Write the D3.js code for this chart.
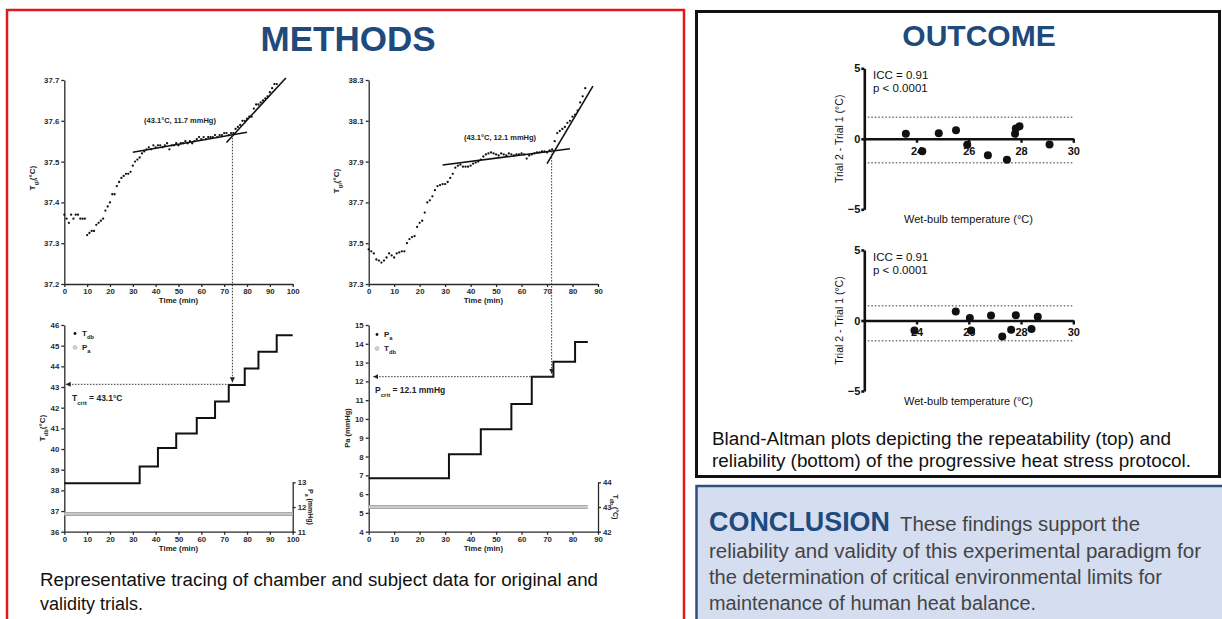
<!DOCTYPE html>
<html><head><meta charset="utf-8">
<script src="https://cdn.jsdelivr.net/npm/d3@7"></script>
<style>body{margin:0;background:#fff}svg{display:block}</style>
</head><body><svg id="c" width="1222" height="619"></svg>
<script>
// ---------------- DATA ----------------
// Panel A (original trial): gastrointestinal temperature, one sample per minute (index = minute)
const tgiTrialA = [37.37,37.36,37.35,37.37,37.36,37.37,37.37,37.36,37.36,37.36,
  37.32,37.325,37.33,37.33,37.345,37.35,37.355,37.36,37.38,37.39,
  37.40,37.42,37.42,37.44,37.45,37.46,37.465,37.47,37.47,37.475,
  37.49,37.50,37.505,37.51,37.52,37.525,37.53,37.535,37.53,37.54,
  37.535,37.54,37.54,37.535,37.54,37.545,37.53,37.54,37.54,37.545,
  37.54,37.545,37.545,37.55,37.545,37.55,37.545,37.55,37.555,37.56,
  37.555,37.56,37.555,37.56,37.56,37.56,37.565,37.56,37.565,37.565,
  37.57,37.57,37.565,37.57,37.57,37.58,37.585,37.59,37.60,37.60,
  37.605,37.61,37.61,37.63,37.64,37.64,37.645,37.65,37.655,37.66,
  37.67,37.68,37.69,37.69];
const fitA1 = [[30,37.523],[80,37.572]];
const fitA2 = [[71,37.547],[97,37.705]];
const critTimeA = 73.6;
// Panel B (validity trial)
const tgiTrialB = [37.47,37.46,37.45,37.42,37.415,37.405,37.415,37.43,37.45,37.44,
  37.43,37.45,37.455,37.46,37.46,37.50,37.52,37.53,37.535,37.58,
  37.60,37.61,37.65,37.70,37.71,37.73,37.76,37.78,37.785,37.79,
  37.79,37.80,37.82,37.84,37.87,37.88,37.885,37.875,37.875,37.875,
  37.88,37.89,37.895,37.90,37.91,37.925,37.935,37.94,37.945,37.94,
  37.935,37.93,37.94,37.935,37.93,37.94,37.935,37.93,37.935,37.935,
  37.94,37.935,37.915,37.93,37.935,37.94,37.945,37.945,37.95,37.95,
  37.945,37.955,37.96,38.00,38.04,38.05,38.06,38.07,38.09,38.10,
  38.12,38.13,38.15,38.19,38.22,38.26];
const fitB1 = [[29,37.883],[79,37.963]];
const fitB2 = [[70,37.89],[88,38.27]];
const critTimeB = 71.8;
// Chamber data panel A: dry-bulb steps (start minute, °C), constant Pa
const tdbStepStart = [0,33,41,49,58,66,72,79,85,93];
const tdbStepLevel = [38.35,39.15,40.05,40.75,41.5,42.3,43.1,43.9,44.7,45.5];
const tdbEnd = 100;
const paConstA = 11.72;
const tcritA = 43.13;
// Chamber data panel B: Pa steps (start minute, mmHg), constant Tdb
const paStepStart = [0,31.5,44,56,64,72.5,81];
const paStepLevel = [6.85,8.12,9.45,10.8,12.25,13.05,14.1];
const paEnd = 86;
const tdbConstB = 43.0;
const pcritB = 12.25;
// Tick labels
const ticksTime100 = [0,10,20,30,40,50,60,70,80,90,100];
const ticksTime90 = [0,10,20,30,40,50,60,70,80,90];
const ticksTgiA = [37.2,37.3,37.4,37.5,37.6,37.7];
const ticksTgiB = [37.3,37.5,37.7,37.9,38.1,38.3];
const ticksTdb = [36,37,38,39,40,41,42,43,44,45,46];
const ticksPaRight = [11,12,13];
const ticksPa = [4,5,6,7,8,9,10,11,12,13,14,15];
const ticksTdbRight = [42,43,44];
// Bland-Altman: repeatability (top)
const baTopTwb = [23.59,24.22,24.85,25.51,25.94,26.73,27.46,27.77,27.8,27.94,29.09];
const baTopDiff = [0.35,-0.88,0.40,0.61,-0.43,-1.16,-1.49,0.35,0.73,0.89,-0.40];
const baTopLoA = [1.53,-1.70];
// Bland-Altman: reliability (bottom)
const baBotTwb = [23.92,25.5,26.04,26.09,26.85,27.28,27.62,27.8,28.4,28.64];
const baBotDiff = [-0.71,0.64,0.17,-0.71,0.35,-1.13,-0.66,0.38,-0.61,0.26];
const baBotLoA = [1.04,-1.44];
const baXTicks = [24,26,28,30];
const baYTicks = [-5,0,5];

// ---------------- DRAW ----------------
const FONT = '"Liberation Sans", Arial, sans-serif';
const svg = d3.select('#c').attr('font-family', FONT);
svg.append('rect').attr('width',1222).attr('height',619).attr('fill','#fff');

const defs = svg.append('defs');
defs.append('marker').attr('id','arr').attr('viewBox','0 0 6 6').attr('refX',6).attr('refY',3)
  .attr('markerWidth',5).attr('markerHeight',5).attr('markerUnits','userSpaceOnUse').attr('orient','auto')
  .append('path').attr('d','M0,0L6,3L0,6Z').attr('fill','#222');

// frames
svg.append('rect').attr('x',7).attr('y',10).attr('width',677).attr('height',640)
  .attr('fill','none').attr('stroke','#e0191b').attr('stroke-width',2.5);
svg.append('rect').attr('x',696.5).attr('y',11.5).attr('width',523).attr('height',465)
  .attr('fill','none').attr('stroke','#111').attr('stroke-width',3);
svg.append('rect').attr('x',696.5).attr('y',486).attr('width',540).attr('height',150)
  .attr('fill','#d4def0').attr('stroke','#2f5080').attr('stroke-width',2.5);

svg.append('text').attr('x',348).attr('y',51).attr('text-anchor','middle')
  .attr('font-size',35).attr('font-weight','bold').attr('fill','#214a7c').text('METHODS');
svg.append('text').attr('x',979).attr('y',46).attr('text-anchor','middle')
  .attr('font-size',30).attr('font-weight','bold').attr('fill','#214a7c').text('OUTCOME');

function rich(parent, x, y, parts, size, opts={}) {
  const t = parent.append('text').attr('x',x).attr('y',y).attr('font-size',size)
    .attr('font-weight',opts.weight||'bold').attr('fill',opts.fill||'#222')
    .attr('text-anchor',opts.anchor||'start');
  if (opts.rotate!==undefined) t.attr('transform',`rotate(${opts.rotate},${x},${y})`);
  parts.forEach(p=>{
    const s = t.append('tspan').text(p[0]);
    if (p[1]==='sub') s.attr('baseline-shift','sub').attr('font-size',size*0.72);
  });
  return t;
}

function styleAxis(a, size, w, col) {
  a.attr('font-family', FONT);
  a.selectAll('path,line').attr('stroke',col).attr('stroke-width',w);
  a.selectAll('text').attr('font-size',size).attr('font-weight','bold').attr('fill','#2a2a2a');
}

function panel(cfg) {
  const x = d3.scaleLinear().domain(cfg.xd).range([cfg.left,cfg.right]);
  const y = d3.scaleLinear().domain(cfg.yd).range([cfg.bottom,cfg.top]);
  const g = svg.append('g');
  const ax = g.append('g').attr('transform',`translate(0,${cfg.bottom})`)
    .call(d3.axisBottom(x).tickValues(cfg.xt).tickSize(3).tickSizeOuter(0).tickPadding(1.5).tickFormat(d3.format('d')));
  const ay = g.append('g').attr('transform',`translate(${cfg.left},0)`)
    .call(d3.axisLeft(y).tickValues(cfg.yt).tickSize(3).tickSizeOuter(0).tickPadding(2).tickFormat(cfg.yf));
  styleAxis(ax,7.8,1.3,'#2a2a2a'); styleAxis(ay,7.8,1.3,'#2a2a2a');
  g.append('text').attr('x',(cfg.left+cfg.right)/2).attr('y',cfg.bottom+19).attr('text-anchor','middle')
    .attr('font-size',7.8).attr('font-weight','bold').attr('fill','#222').text('Time (min)');
  return {x,y,g};
}

// Panel 1: Tgi original
const p1 = panel({xd:[0,100],yd:[37.2,37.7],left:64.3,right:292.7,top:80,bottom:284,xt:ticksTime100,yt:ticksTgiA,yf:d3.format('.1f')});
// Panel 2: Tgi validity
const p2 = panel({xd:[0,90],yd:[37.3,38.3],left:368.7,right:598,top:80,bottom:284,xt:ticksTime90,yt:ticksTgiB,yf:d3.format('.1f')});
// Panel 3: Tdb
const p3 = panel({xd:[0,100],yd:[36,46],left:64.3,right:292.7,top:325,bottom:531.7,xt:ticksTime100,yt:ticksTdb,yf:d3.format('d')});
// Panel 4: Pa
const p4 = panel({xd:[0,90],yd:[4,15],left:368.7,right:598,top:325,bottom:531.7,xt:ticksTime90,yt:ticksPa,yf:d3.format('d')});

// right axes
const y3r = d3.scaleLinear().domain([11,13]).range([531.7,482.3]);
const y4r = d3.scaleLinear().domain([42,44]).range([531.7,482.3]);
[[p3,y3r,ticksPaRight],[p4,y4r,ticksTdbRight]].forEach(([p,yr,tv])=>{
  const a = p.g.append('g').attr('transform',`translate(${p.x.range()[1]},0)`)
    .call(d3.axisRight(yr).tickValues(tv).tickSize(3).tickSizeOuter(0).tickPadding(2).tickFormat(d3.format('d')));
  styleAxis(a,7.8,1.3,'#2a2a2a');
});

// y titles
rich(svg,34.5,178,[['T'],['gi','sub'],['(°C)']],8,{anchor:'middle',rotate:-90});
rich(svg,339,181,[['T'],['gi','sub'],['(°C)']],8,{anchor:'middle',rotate:-90});
rich(svg,44.5,428,[['T'],['db','sub'],['(°C)']],8,{anchor:'middle',rotate:-90});
rich(svg,350,428,[['Pa (mmHg)']],7.5,{anchor:'middle',rotate:-90});
rich(svg,308,507,[['P'],['a','sub'],[' (mmHg)']],7,{anchor:'middle',rotate:90});
rich(svg,613,507,[['T'],['db','sub'],[' (°C)']],7,{anchor:'middle',rotate:90});

// Tgi dots and fits
function dots(p, vals) {
  p.g.append('g').selectAll('circle').data(vals).join('circle')
    .attr('cx',(d,i)=>p.x(i)).attr('cy',d=>p.y(d)).attr('r',1.15).attr('fill','#111');
}
dots(p1,tgiTrialA); dots(p2,tgiTrialB);
const fitLine = (p)=>d3.line().x(d=>p.x(d[0])).y(d=>p.y(d[1]));
[[p1,fitA1],[p1,fitA2],[p2,fitB1],[p2,fitB2]].forEach(([p,f])=>{
  p.g.append('path').attr('d',fitLine(p)(f)).attr('stroke','#111').attr('stroke-width',1.6).attr('fill','none');
});
rich(svg,180,123,[['(43.1°C, 11.7 mmHg)']],7.5,{anchor:'middle'});
rich(svg,500,140,[['(43.1°C, 12.1 mmHg)']],7.5,{anchor:'middle'});

// chamber series
function stepPath(p, starts, levels, end, yScale) {
  const pts = starts.map((s,i)=>[s,levels[i]]).concat([[end,levels[levels.length-1]]]);
  return d3.line().x(d=>p.x(d[0])).y(d=>yScale(d[1])).curve(d3.curveStepAfter)(pts);
}
function constBand(p, yScale, val, end) {
  const d = d3.line().x(d=>p.x(d[0])).y(d=>yScale(d[1]))([[0,val],[end,val]]);
  p.g.append('path').attr('d',d).attr('stroke','#a9a9a9').attr('stroke-width',4).attr('fill','none');
  p.g.append('path').attr('d',d).attr('stroke','#d8d8d8').attr('stroke-width',1.4).attr('fill','none');
}
constBand(p3, y3r, paConstA, 100);
p3.g.append('path').attr('d',stepPath(p3,tdbStepStart,tdbStepLevel,tdbEnd,p3.y))
  .attr('stroke','#111').attr('stroke-width',2).attr('fill','none');
constBand(p4, y4r, tdbConstB, paEnd);
p4.g.append('path').attr('d',stepPath(p4,paStepStart,paStepLevel,paEnd,p4.y))
  .attr('stroke','#111').attr('stroke-width',2).attr('fill','none');

// legends
function legend(p, x, y, first, second) {
  p.g.append('circle').attr('cx',x).attr('cy',y-2.5).attr('r',1.4).attr('fill','#111');
  rich(p.g,x+7,y,first,8);
  p.g.append('circle').attr('cx',x).attr('cy',y+11.5).attr('r',2).attr('fill','#d0d0d0').attr('stroke','#b0b0b0').attr('stroke-width',0.6);
  rich(p.g,x+7,y+14,second,8);
}
legend(p3,75,336,[['T'],['db','sub']],[['P'],['a','sub']]);
legend(p4,377,337,[['P'],['a','sub']],[['T'],['db','sub']]);

// critical point connectors
function dotted(x1,y1,x2,y2){
  svg.append('line').attr('x1',x1).attr('y1',y1).attr('x2',x2).attr('y2',y2)
    .attr('stroke','#333').attr('stroke-width',1).attr('stroke-dasharray','1.5,1.5')
    .attr('marker-end','url(#arr)');
}
const interA = fitA1[0][1] + (fitA1[1][1]-fitA1[0][1])*(critTimeA-fitA1[0][0])/(fitA1[1][0]-fitA1[0][0]);
dotted(p1.x(critTimeA),p1.y(interA),p3.x(critTimeA),p3.y(tcritA)-2);
dotted(p3.x(critTimeA),p3.y(tcritA),p3.x(0.6),p3.y(tcritA));
const interB = fitB1[0][1] + (fitB1[1][1]-fitB1[0][1])*(critTimeB-fitB1[0][0])/(fitB1[1][0]-fitB1[0][0]);
dotted(p2.x(critTimeB),p2.y(interB),p4.x(critTimeB),p4.y(pcritB)-3);
dotted(p4.x(critTimeB),p4.y(pcritB),p4.x(1.8),p4.y(pcritB));
rich(svg,72,401,[['T'],['crit','sub'],[' = 43.1°C']],8.5);
rich(svg,375,393,[['P'],['crit','sub'],[' = 12.1 mmHg']],8.5);

// captions
svg.append('text').attr('x',40).attr('y',586).attr('font-size',18).attr('fill','#111')
  .attr('textLength',558).attr('lengthAdjust','spacingAndGlyphs')
  .text('Representative tracing of chamber and subject data for original and');
svg.append('text').attr('x',40).attr('y',610).attr('font-size',18).attr('fill','#111').text('validity trials.');

// Bland-Altman plots
function blandAltman(cfg) {
  const x = d3.scaleLinear().domain([22,30]).range([864.3,1073.3]);
  const y = d3.scaleLinear().domain([-5,5]).range([cfg.bottom,cfg.top]);
  const g = svg.append('g');
  cfg.loa.forEach(v=>{
    g.append('line').attr('x1',x(22)).attr('x2',x(30)).attr('y1',y(v)).attr('y2',y(v))
      .attr('stroke','#777').attr('stroke-width',1.5).attr('stroke-dasharray','1.5,2');
  });
  const ax = g.append('g').attr('transform',`translate(0,${y(0)})`)
    .call(d3.axisBottom(x).tickValues(baXTicks).tickSize(4).tickSizeOuter(0).tickPadding(4).tickFormat(d3.format('d')));
  const ay = g.append('g').attr('transform',`translate(${x(22)},0)`)
    .call(d3.axisLeft(y).tickValues(baYTicks).tickSize(3).tickSizeOuter(0).tickPadding(1).tickFormat(d3.format('d')));
  styleAxis(ax,11,2.4,'#111'); styleAxis(ay,11,2.6,'#111');
  g.selectAll('.tick text').attr('fill','#111');
  g.append('g').selectAll('circle').data(cfg.xs).join('circle')
    .attr('cx',d=>x(d)).attr('cy',(d,i)=>y(cfg.ys[i])).attr('r',4).attr('fill','#111');
  g.append('text').attr('x',873).attr('y',y(5)+11).attr('font-size',11.5).attr('fill','#111').text('ICC = 0.91');
  g.append('text').attr('x',873).attr('y',y(5)+24).attr('font-size',11.5).attr('fill','#111').text('p < 0.0001');
  g.append('text').attr('x',843).attr('y',y(0)).attr('text-anchor','middle').attr('font-size',10.5).attr('fill','#111')
    .attr('transform',`rotate(-90,843,${y(0)})`).text('Trial 2 - Trial 1 (°C)');
  g.append('text').attr('x',968.5).attr('y',cfg.bottom+13.5).attr('text-anchor','middle').attr('font-size',11).attr('fill','#111')
    .text('Wet-bulb temperature (°C)');
}
blandAltman({top:68.3,bottom:209.3,xs:baTopTwb,ys:baTopDiff,loa:baTopLoA});
blandAltman({top:250,bottom:391,xs:baBotTwb,ys:baBotDiff,loa:baBotLoA});

svg.append('text').attr('x',712).attr('y',445).attr('font-size',18).attr('fill','#111')
  .attr('textLength',459).attr('lengthAdjust','spacingAndGlyphs')
  .text('Bland-Altman plots depicting the repeatability (top) and');
svg.append('text').attr('x',712).attr('y',467).attr('font-size',18).attr('fill','#111')
  .attr('textLength',479).attr('lengthAdjust','spacingAndGlyphs')
  .text('reliability (bottom) of the progressive heat stress protocol.');

// conclusion
svg.append('text').attr('x',709).attr('y',531).attr('font-size',27).attr('font-weight','bold')
  .attr('fill','#214a7c').attr('textLength',181).attr('lengthAdjust','spacingAndGlyphs').text('CONCLUSION');
svg.append('text').attr('x',900).attr('y',531).attr('font-size',20).attr('fill','#444')
  .attr('textLength',240).attr('lengthAdjust','spacingAndGlyphs').text('These findings support the');
const concl = ['reliability and validity of this experimental paradigm for',
  'the determination of critical environmental limits for',
  'maintenance of human heat balance.'];
const conclW = [492, 453, 327];
concl.forEach((s,i)=>{
  svg.append('text').attr('x',709).attr('y',558+i*26).attr('font-size',20).attr('fill','#444')
    .attr('textLength',conclW[i]).attr('lengthAdjust','spacingAndGlyphs').text(s);
});
</script></body></html>
